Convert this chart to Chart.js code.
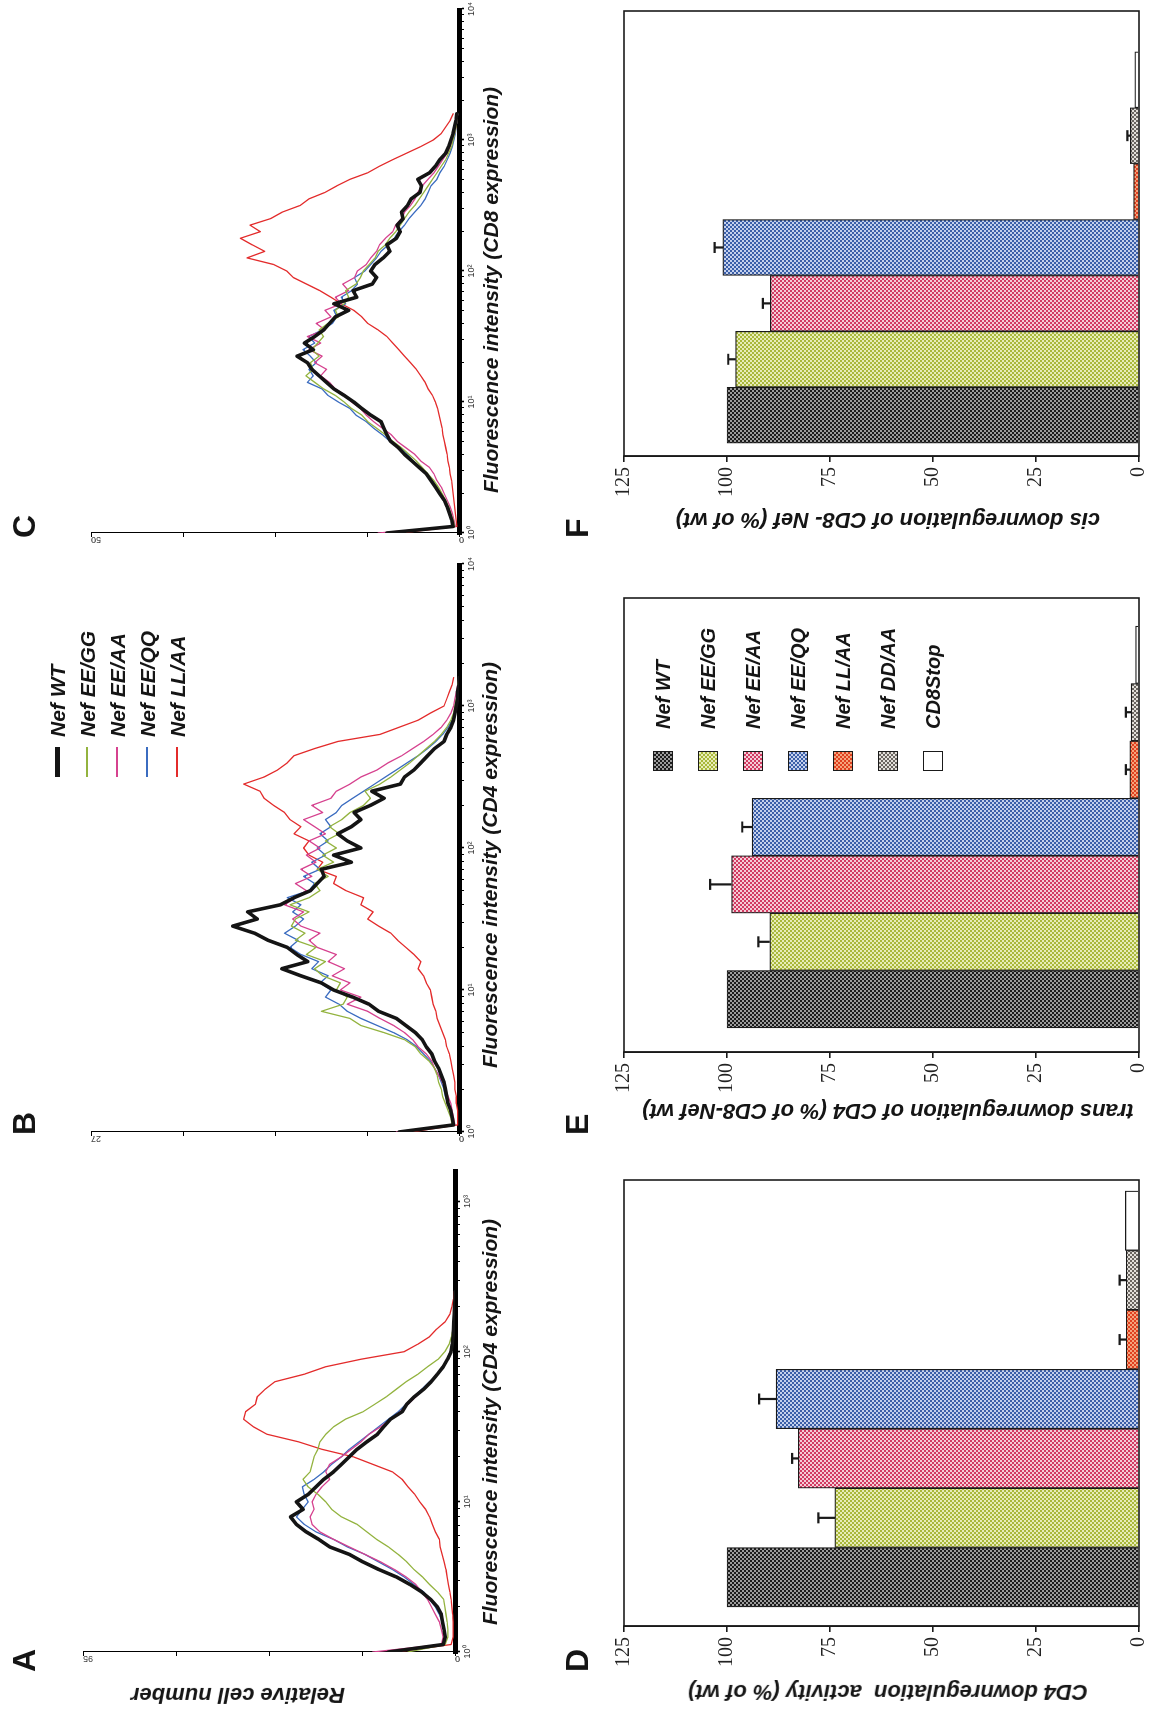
<!DOCTYPE html>
<html><head><meta charset="utf-8">
<script src="https://cdn.jsdelivr.net/npm/chart.js@4.4.1/dist/chart.umd.min.js"></script>
<style>
html,body{margin:0;padding:0;background:#fff;}
body{width:1156px;height:1712px;overflow:hidden;position:relative;}
#fig{position:absolute;left:0;top:0;width:1712px;height:1156px;transform-origin:0 0;transform:translateY(1712px) rotate(-90deg);font-family:'Liberation Sans',Arial,sans-serif;color:#111;}
#fig canvas{position:absolute;}
.t{position:absolute;white-space:pre;font-weight:bold;font-style:italic;color:#151515;line-height:1;}
.panel{position:absolute;font-weight:bold;font-size:32px;line-height:32px;color:#151515;}
</style></head>
<body><div id="fig"></div>
<script>
// ---------------- data ----------------
const decadeGrid = [0,0.05,0.1,0.15,0.2,0.25,0.3,0.35,0.4,0.45,0.5,0.55,0.6,0.65,0.7,0.75,0.8,0.85,0.9,0.95,1,1.05,1.1,1.15,1.2,1.25,1.3,1.35,1.4,1.45,1.5,1.55,1.6,1.65,1.7,1.75,1.8,1.85,1.9,1.95,2,2.05,2.1,2.15,2.2,2.25,2.3,2.35,2.4,2.45,2.5,2.55,2.6,2.65,2.7,2.75,2.8,2.85,2.9,2.95,3,3.05,3.1,3.15,3.2];
const decadeTickLabels = ['10\u2070','10\u00B9','10\u00B2','10\u00B3','10\u2074'];
const histLabels = ['Nef WT','Nef EE/GG','Nef EE/AA','Nef EE/QQ','Nef LL/AA'];

// Panel A (CD4, max 95)
const histA_WT = [17,3,2.5,2.8,3.2,3.5,4.5,6.2,8.5,11.5,15,19.5,23.5,27,32,34.8,38,40.5,42,38.8,40.5,37.5,35.5,33.5,31,29,27,25,22.5,19.8,18.2,16.5,13.5,12.3,10.4,8,6.1,4.5,3,1.9,1,0.7,0.5,0.4,0.3,0.2,0.1,0,0];
const histA_GG = [12,2.5,1.8,1.8,2,2.3,2.6,2.9,4.5,6.5,8.3,10.5,12.3,14.5,17,20,22.5,25,29,31.5,33,35,37.5,38.8,37,36.5,36,35,34.5,33,31,28,23.5,20.5,17.5,15,12.5,9.5,7,4.3,2.6,1.5,0.9,0.5,0.3,0.2,0.1,0,0];
const histA_AA = [21,3.5,3,3.5,4,5,6,7,8.5,10,12.5,15.5,19,23,27,31,34.5,36.5,37,36,36.5,35.5,34,32,33,32,29,26.5,24,22,19,16.5,14,12,10,8,6,4.5,3,2,1.2,0.8,0.5,0.3,0.2,0.1,0,0,0];
const histA_QQ = [16,3,2.5,2.7,3.2,4,5,6.5,8,10.5,13,16,19.5,23,27.5,31,35.5,38.5,40.5,39,37.5,38.5,39,36,33.5,31.5,29,27,24.5,22,19.5,17,14.5,12.5,10.5,8.5,6.5,4.5,3,2,1.2,0.8,0.5,0.4,0.3,0.2,0.1,0,0];
const histA_LL = [15,1,0.5,0.5,0.5,0.6,0.8,1,1.3,1.7,2,2.3,2.8,3.3,3.8,4,5,5.8,6.5,7.5,9,10.3,12,13.5,16,21,26,34,40,48,51.5,54,53.5,51,50.5,48.5,46,38.5,33,24,13,9.5,6.5,4.7,2.5,1.3,0.8,0.4,0.2];

// Panel B (CD4, max 27)
const histB_WT = [4.4,0.4,0.5,0.6,0.8,0.9,1.0,1.1,1.3,1.5,1.8,2.0,2.4,2.7,3.2,3.9,4.6,5.9,6.6,7.8,9.2,10.1,11.6,13.0,11.1,11.9,12.6,14.0,15.0,16.6,14.8,15.5,13.1,12.1,10.9,10.4,9.9,10.1,7.9,9.2,7.2,8.2,8.9,7.9,7.2,7.7,6.5,5.5,6.4,4.3,4.0,3.3,2.8,2.3,1.8,1.1,0.9,0.6,0.4,0.3,0.2,0.1,0.1,0,0];
const histB_GG = [4.0,0.5,0.6,0.8,1.0,1.2,1.3,1.5,1.6,1.8,2.2,2.8,3.2,4.0,5.5,7.2,8.0,10.1,8.5,8.2,9.0,8.7,10.0,10.6,9.8,11.2,10.5,12.0,11.3,12.3,12.0,11.0,12.4,11.0,10.2,10.6,9.6,10.4,9.2,10.0,9.0,9.8,8.8,9.5,8.6,8.0,7.0,6.5,6.9,5.8,5.0,4.3,3.6,3.0,2.4,1.8,1.3,0.9,0.6,0.4,0.3,0.2,0.1,0.1,0];
const histB_AA = [4.6,0.3,0.4,0.5,0.6,0.8,1.0,1.2,1.5,1.8,2.0,2.4,3.0,3.4,4.0,4.8,5.8,6.7,8.2,7.2,8.7,8.0,9.3,8.4,9.6,9.0,10.4,11.0,10.2,11.6,12.2,11.4,12.8,12.0,11.2,12.0,10.8,11.6,10.5,11.2,10.2,11.0,9.8,10.6,11.4,10.0,10.8,9.4,9.0,8.0,7.2,6.0,5.2,4.2,3.4,2.6,1.9,1.3,0.9,0.6,0.4,0.3,0.2,0.1,0];
const histB_QQ = [4.2,0.4,0.5,0.6,0.8,1.0,1.1,1.3,1.5,1.8,2.1,2.6,3.1,3.8,4.8,6.0,7.2,8.2,8.8,9.8,9.4,10.2,9.6,10.8,10.3,11.6,12.4,11.8,12.8,12.0,11.4,12.2,11.6,12.6,11.0,10.6,11.4,10.2,10.8,9.8,10.4,9.6,10.2,9.4,9.8,9.0,8.6,7.8,7.0,6.2,5.4,4.6,3.8,3.0,2.3,1.7,1.2,0.8,0.5,0.3,0.2,0.1,0.1,0,0];
const histB_LL = [3.5,0.1,0.1,0.1,0.2,0.2,0.3,0.3,0.4,0.5,0.6,0.7,0.9,1.0,1.2,1.4,1.6,1.7,1.9,2.0,2.1,2.4,2.6,3.0,2.8,3.3,3.9,4.5,5.0,5.9,6.7,6.3,7.2,7.0,8.3,9.2,9.0,10.4,10.0,11.0,11.4,11.0,12.1,11.6,12.4,12.8,13.6,14.3,14.6,15.8,14.3,13.3,12.6,12.1,10.6,8.9,5.8,4.4,3.0,2.1,1.1,0.9,0.7,0.5,0.4];

// Panel C (CD8, max 50)
const histC_WT = [9.8,0.8,1.0,1.3,1.6,2.0,2.6,3.2,3.8,4.4,5.4,6.4,7.4,8.2,9.3,9.8,10.2,10.6,12.0,13.2,14.3,15.6,17.0,18.0,19.0,20.0,20.6,22.0,19.8,21.0,19.6,18.4,17.6,16.8,15.0,17.0,13.9,14.4,11.8,11.2,12.0,11.4,10.3,9.4,9.8,8.5,8.0,8.4,7.6,7.8,7.0,6.5,5.3,5.1,5.6,4.0,3.2,2.6,1.8,1.4,1.1,0.8,0.6,0.4,0.3];
const histC_GG = [9.0,0.6,0.8,1.1,1.4,1.8,2.3,2.8,3.4,4.2,5.0,5.8,6.8,7.8,9.0,10.0,11.2,12.4,13.2,14.6,15.6,16.8,18.4,19.6,20.8,19.8,20.2,19.0,20.0,19.2,18.4,19.0,17.8,16.4,16.8,15.6,15.0,15.4,14.0,13.4,13.0,12.2,11.4,11.0,10.0,9.4,8.6,8.0,7.4,6.8,6.0,5.4,4.8,4.2,3.6,3.0,2.4,1.8,1.4,1.0,0.8,0.6,0.4,0.3,0.2];
const histC_AA = [11,0.5,0.7,0.9,1.2,1.6,2.0,2.4,3.0,3.4,4.0,5.2,6.0,7.2,8.4,9.2,10.4,11.6,12.6,13.4,14.6,15.4,16.8,17.6,18.8,18.0,19.6,18.6,20.4,18.8,20.6,18.2,19.4,17.4,18.2,16.0,16.8,15.0,15.8,14.2,13.8,12.6,12.0,11.2,10.8,10.0,9.0,8.6,7.8,7.4,6.6,6.0,5.6,5.0,4.2,3.4,2.8,2.2,1.6,1.2,0.9,0.6,0.4,0.3,0.2];
const histC_QQ = [10,0.6,0.9,1.2,1.5,2.0,2.5,3.0,3.6,4.4,5.4,6.2,7.0,8.0,9.4,10.4,11.6,12.6,14.0,14.8,16.4,17.8,18.6,20.6,19.8,20.4,19.4,20.2,21.2,19.6,20.4,18.6,17.2,16.6,17.0,15.4,16.0,14.6,13.8,14.2,12.8,12.0,11.2,10.6,9.6,8.8,8.2,7.4,6.8,6.0,5.2,4.6,4.2,3.8,3.0,2.6,2.0,1.6,1.2,0.9,0.7,0.5,0.4,0.3,0.2];
const histC_LL = [8,0.3,0.4,0.5,0.6,0.7,0.8,0.9,1.0,1.2,1.3,1.5,1.6,1.8,2.0,2.2,2.3,2.5,2.7,2.9,3.2,3.6,4.2,4.6,5.2,5.8,6.6,7.4,8.2,9.0,9.8,11.0,12.4,13.2,14.3,16.0,17.4,18.9,20.7,22.5,23.4,25.2,28.8,26.4,28.1,29.7,27.0,28.4,25.6,24.0,21.6,20.4,18.2,16.6,14.8,12.4,10.8,9.0,7.1,5.2,3.5,2.4,1.8,1.2,0.8];

const histYMax = {A:95, B:27, C:50};

// Bar panels
const barCategories = ['Nef WT','Nef EE/GG','Nef EE/AA','Nef EE/QQ','Nef LL/AA','Nef DD/AA','CD8Stop'];
const valueTicks = [0,25,50,75,100,125];
const barD_values = [100,73.8,82.7,88.1,3.1,3.1,3.3];
const barD_errors = [0,4.0,1.5,4.1,1.6,1.6,0];
const barE_values = [100,89.6,98.9,93.9,2.2,1.9,0.8];
const barE_errors = [0,2.8,5.2,2.4,1.0,1.3,0];
const barF_values = [100,97.9,89.5,101,1.3,2.1,1.0];
const barF_errors = [0,1.8,1.8,2.0,0,0.7,0];

// ---------------- styles ----------------
const lineColors = ['#141414','#93b33f','#d6428f','#3b6cc0','#e32b2b'];
const lineWidths = [3.6,1.3,1.3,1.3,1.3];
const barDark  = ['#1c1c1c','#a9b83a','#d23a62','#3b5fa8','#e0401f','#6a6560','#ffffff'];
const barLight = ['#9c9c9c','#e8ecb8','#f4ccd6','#c4d0ec','#f5a47c','#e2dfda','#ffffff'];

const fig = document.getElementById('fig');
function mkCanvas(l,t,w,h){
  const c=document.createElement('canvas');
  c.width=w;c.height=h;
  c.style.left=l+'px';c.style.top=t+'px';c.style.width=w+'px';c.style.height=h+'px';
  fig.appendChild(c);return c;
}
function addText(txt,l,t,size,transform,extra){
  const d=document.createElement('div');
  d.className='t';d.textContent=txt;
  d.style.left=l+'px';d.style.top=t+'px';d.style.fontSize=size+'px';
  if(transform)d.style.transform=transform;
  if(extra)Object.assign(d.style,extra);
  fig.appendChild(d);return d;
}
function tilePattern(ctx,c1,c2){
  if(c1===c2)return c1;
  const t=document.createElement('canvas');t.width=4;t.height=4;
  const g=t.getContext('2d');
  g.fillStyle=c2;g.fillRect(0,0,4,4);
  g.fillStyle=c1;g.fillRect(0,0,2,2);g.fillRect(2,2,2,2);
  return ctx.createPattern(t,'repeat');
}

// ---------------- histograms ----------------
function histogram(box,series,ymax,xmaxExp){
  const cv=mkCanvas(box.left,box.top,box.w,box.h);
  const xmax=Math.pow(10,xmaxExp);
  new Chart(cv,{
    type:'line',
    data:{datasets:series.map((vals,k)=>({
      label:histLabels[k],
      data:vals.map((v,i)=>({x:Math.pow(10,decadeGrid[i]),y:v})),
      borderColor:lineColors[k],borderWidth:lineWidths[k],
      pointRadius:0,tension:0,fill:false,borderJoinStyle:'round',borderCapStyle:'round'
    }))},
    options:{
      responsive:false,animation:false,devicePixelRatio:1,events:[],
      layout:{padding:{left:0,top:box.padTop,right:box.padRight,bottom:0}},
      plugins:{legend:{display:false},tooltip:{enabled:false}},
      scales:{
        x:{type:'logarithmic',min:1,max:xmax,
          afterBuildTicks:s=>{
            const t=[];
            for(let e=0;e<4;e++)for(let m=1;m<10;m++){const v=m*Math.pow(10,e);if(v<=xmax*1.0001)t.push({value:v,major:m===1});}
            if(xmax>=9999)t.push({value:10000,major:true});
            s.ticks=t;
          },
          afterFit:s=>{s.height=box.xAxisH;},
          border:{display:true,width:5,color:'#000'},
          grid:{drawOnChartArea:false,drawTicks:true,tickLength:5,color:'#000',tickWidth:c=>(c.tick&&c.tick.major)?1.6:1},
          ticks:{autoSkip:false,maxRotation:0,minRotation:0,padding:2,color:'#333',font:{family:'Liberation Sans',size:9},
            callback:v=>{const e=Math.log10(v);const r=Math.round(e);return Math.abs(e-r)<1e-6?decadeTickLabels[r]:'';}}
        },
        y:{type:'linear',min:0,max:ymax,
          afterBuildTicks:s=>{s.ticks=[0,1,2,3,4].map(k=>({value:ymax*k/4}));},
          afterFit:s=>{s.width=box.yAxisW;},
          border:{display:true,width:1,color:'#000'},
          grid:{drawOnChartArea:false,tickLength:4,color:'#000',lineWidth:1},
          ticks:{minRotation:90,maxRotation:90,padding:2,color:'#333',font:{family:'Liberation Sans',size:9},
            callback:v=>v===0?'0':(Math.abs(v-ymax)<1e-9?String(ymax):'')}
        }
      }
    }
  });
}

histogram({left:0,top:0,w:560,h:520,padTop:83,padRight:18,xAxisH:65,yAxisW:60},
  [histA_WT,histA_GG,histA_AA,histA_QQ,histA_LL],histYMax.A,3.21);
histogram({left:560,top:0,w:600,h:520,padTop:91,padRight:12,xAxisH:61,yAxisW:20},
  [histB_WT,histB_GG,histB_AA,histB_QQ,histB_LL],histYMax.B,4);
histogram({left:1160,top:0,w:552,h:520,padTop:91,padRight:9,xAxisH:61,yAxisW:19},
  [histC_WT,histC_GG,histC_AA,histC_QQ,histC_LL],histYMax.C,4);

// ---------------- bar charts ----------------
const boxPlugin={id:'box',afterDatasetsDraw(chart){
  const {ctx,chartArea:a}=chart;ctx.save();ctx.strokeStyle='#1a1a1a';ctx.lineWidth=1.6;
  ctx.strokeRect(a.left,a.top,a.right-a.left,a.bottom-a.top);ctx.restore();}};
const errPlugin={id:'errs',afterDatasetsDraw(chart,args,opts){
  const ctx=chart.ctx,ys=chart.scales.y,meta=chart.getDatasetMeta(0);
  ctx.save();ctx.strokeStyle='#1a1a1a';ctx.lineWidth=2.2;ctx.beginPath();
  meta.data.forEach((bar,i)=>{
    const e=opts.errors[i];if(!e)return;
    const y0=ys.getPixelForValue(opts.values[i]),y1=ys.getPixelForValue(opts.values[i]+e);
    ctx.moveTo(bar.x,y0);ctx.lineTo(bar.x,y1);
    ctx.moveTo(bar.x-5.5,y1);ctx.lineTo(bar.x+5.5,y1);
  });
  ctx.stroke();ctx.restore();}};

function barPanel(box,values,errors,xmin,xmax){
  const cv=mkCanvas(box.left,box.top,box.w,box.h);
  const ctx=cv.getContext('2d');
  const fills=barDark.map((c,i)=>tilePattern(ctx,c,barLight[i]));
  new Chart(cv,{
    type:'bar',
    data:{datasets:[{data:values.map((v,i)=>({x:i,y:v})),backgroundColor:fills,borderColor:'#1a1a1a',borderWidth:1.2,
      barPercentage:1,categoryPercentage:1}]},
    options:{
      responsive:false,animation:false,devicePixelRatio:1,events:[],
      layout:{padding:{left:0,top:box.padTop,right:box.padRight,bottom:box.padBottom}},
      plugins:{legend:{display:false},tooltip:{enabled:false},errs:{values:values,errors:errors}},
      scales:{
        x:{type:'linear',min:xmin,max:xmax,offset:false,display:false,
          afterBuildTicks:s=>{s.ticks=values.map((v,i)=>({value:i}));}},
        y:{min:0,max:125,
          afterBuildTicks:s=>{s.ticks=valueTicks.map(v=>({value:v}));},
          afterFit:s=>{s.width=box.yAxisW;},
          border:{display:true,width:1.6,color:'#1a1a1a'},
          grid:{drawOnChartArea:false,tickLength:6,color:'#1a1a1a',lineWidth:1.6},
          ticks:{padding:5,color:'#222',font:{family:'Liberation Serif',size:20}}
        }
      }
    },
    plugins:[boxPlugin,errPlugin]
  });
}
barPanel({left:0,top:560,w:545,h:596,padTop:64,padRight:13,padBottom:2,yAxisW:86},barD_values,barD_errors,-0.82,6.685);
barPanel({left:570,top:560,w:560,h:596,padTop:64,padRight:16,padBottom:2,yAxisW:90},barE_values,barE_errors,-0.92,6.99);
barPanel({left:1166,top:560,w:546,h:596,padTop:64,padRight:11,padBottom:2,yAxisW:90},barF_values,barF_errors,-0.73,7.23);

// ---------------- texts ----------------
const panels=[['A',40,8],['B',577,8],['C',1174,8],['D',40,561],['E',577,561],['F',1174,561]];
panels.forEach(p=>{const d=document.createElement('div');d.className='panel';d.textContent=p[0];d.style.left=p[1]+'px';d.style.top=p[2]+'px';fig.appendChild(d);});

addText('Relative cell number',17,238,22,'translate(-50%,-50%) rotate(-90deg)');
addText('Fluorescence intensity (CD4 expression)',290,489,21,'translate(-50%,-50%)');
addText('Fluorescence intensity (CD4 expression)',847,489,21,'translate(-50%,-50%)');
addText('Fluorescence intensity (CD8 expression)',1422,490,21,'translate(-50%,-50%)');
addText('CD4 downregulation  activity (% of wt)',20,888,22,'translate(-50%,-50%) rotate(-90deg)');
addText('trans downregulation of CD4 (% of CD8-Nef wt)',601,888,22,'translate(-50%,-50%) rotate(-90deg)');
addText('cis downregulation of CD8- Nef (% of wt)',1192,888,22,'translate(-50%,-50%) rotate(-90deg)');

// legend for histograms (panel B)
histLabels.forEach((lab,i)=>{
  const y=57+i*30;
  const ln=document.createElement('div');
  const h=i===0?5:2;
  Object.assign(ln.style,{position:'absolute',left:'935px',top:(y-h/2)+'px',width:'30px',height:h+'px',background:lineColors[i]});
  fig.appendChild(ln);
  addText(lab,975,y,21,'translateY(-50%)');
});
// legend for bars (panel E)
barCategories.forEach((lab,i)=>{
  const y=663+i*45;
  const sq=document.createElement('div');
  Object.assign(sq.style,{position:'absolute',left:'941px',top:(y-10)+'px',width:'18px',height:'18px',border:'1.5px solid #1a1a1a',
    backgroundImage:'repeating-conic-gradient('+barDark[i]+' 0 25%, '+barLight[i]+' 0 50%)',backgroundSize:'4px 4px'});
  fig.appendChild(sq);
  addText(lab,983,y,20,'translateY(-50%)');
});
</script></body></html>
